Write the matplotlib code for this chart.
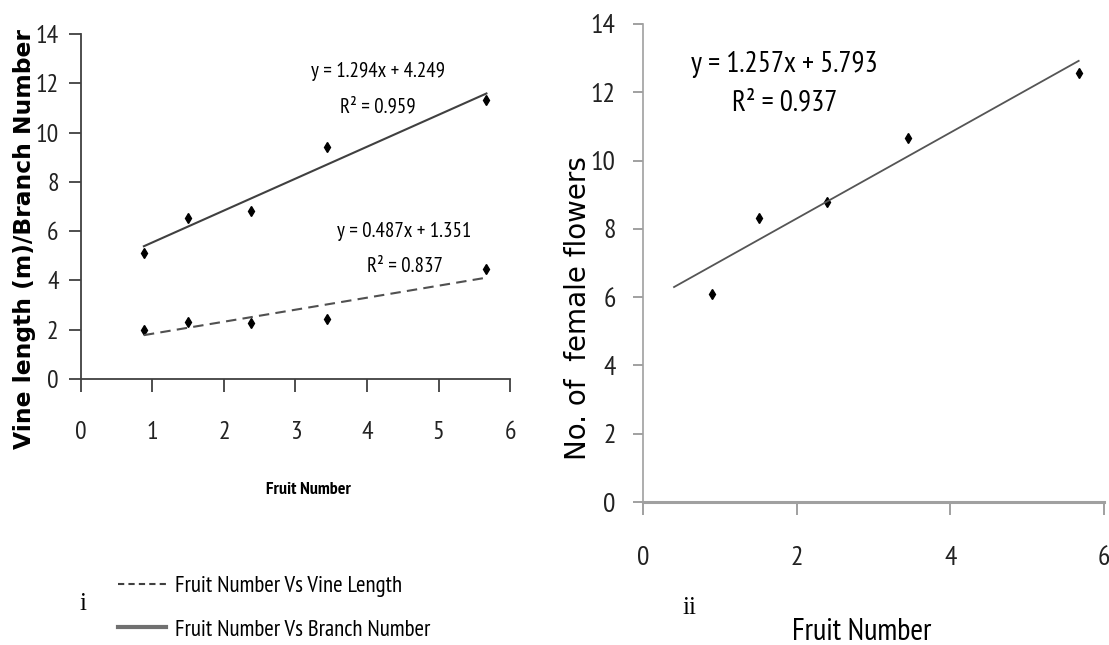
import matplotlib
matplotlib.use('Agg')
import matplotlib.pyplot as plt
from matplotlib import font_manager
from matplotlib.lines import Line2D
import numpy as np

# Data
fruit_left = [0.88, 1.49, 2.38, 3.44, 5.67]
branch_number = [5.12, 6.53, 6.83, 9.40, 11.34]
vine_length = [2.00, 2.32, 2.26, 2.42, 4.48]

fruit_right = [0.90, 1.51, 2.39, 3.45, 5.67]
female_flowers = [6.09, 8.32, 8.78, 10.67, 12.56]

# Trendline coefficients printed on the chart (slope, intercept)
branch_fit = [1.294, 4.249]
vine_fit = [0.487, 1.351]
female_fit = [1.257, 5.793]

names = {f.name for f in font_manager.fontManager.ttflist}


def pick(cands):
    for c in cands:
        if c in names:
            return c
    return 'DejaVu Sans'


narrow = pick(['Liberation Sans Narrow', 'Arial Narrow', 'PT Sans Narrow', 'Archivo Narrow',
               'Roboto Condensed', 'Open Sans Condensed', 'Fira Sans Condensed',
               'Encode Sans Condensed', 'Pragati Narrow', 'Carlito', 'Lato'])

fig = plt.figure(figsize=(11.09, 6.45), dpi=100)

# ---- panel i ----
ax1 = fig.add_axes([0.0730, 0.4124, 0.3869, 0.5349])
ax1.plot(fruit_left, branch_number, linestyle='none', marker='d', markersize=5.5, color='black')
ax1.plot(fruit_left, vine_length, linestyle='none', marker='d', markersize=5.5, color='black')
xl = np.array([fruit_left[0], fruit_left[-1]])
ax1.plot(xl, branch_fit[0] * xl + branch_fit[1], color='#404040', lw=1.5)
ax1.plot(xl, vine_fit[0] * xl + vine_fit[1], color='#505050', lw=1.5, linestyle=(0, (5, 3)))
ax1.set_xlim(0, 6)
ax1.set_ylim(0, 14)
ax1.set_xticks(range(0, 7))
ax1.set_yticks(range(0, 15, 2))
for s in ['top', 'right']:
    ax1.spines[s].set_visible(False)
for s in ['left', 'bottom']:
    ax1.spines[s].set_color('#404040')
    ax1.spines[s].set_linewidth(1.3)
ax1.tick_params(axis='x', length=9, width=1.3, color='#404040', pad=21, labelsize=18.5)
ax1.tick_params(axis='y', length=9, width=1.3, color='#404040', pad=7, labelsize=18.5)
for lab in ax1.get_xticklabels() + ax1.get_yticklabels():
    lab.set_fontfamily(narrow)
    lab.set_color('#222222')
ax1.text(4.15, 12.48, 'y = 1.294x + 4.249', family=narrow, fontsize=15, ha='center', va='center')
ax1.text(4.15, 11.06, 'R² = 0.959', family=narrow, fontsize=15, ha='center', va='center')
ax1.text(4.52, 5.98, 'y = 0.487x + 1.351', family=narrow, fontsize=15, ha='center', va='center')
ax1.text(4.53, 4.55, 'R² = 0.837', family=narrow, fontsize=15, ha='center', va='center')

fig.text(0.022, 0.629, 'Vine length (m)/Branch Number', rotation=90, fontsize=16.8,
         fontweight='bold', ha='center', va='center', family='DejaVu Sans')
fig.text(308 / 1109, 1 - 490 / 645, 'Fruit Number', family=narrow, fontsize=13,
         fontweight='bold', ha='center', va='center')

handles = [Line2D([], [], color='#404040', lw=1.5, linestyle=(0, (3, 2))),
           Line2D([], [], color='#707070', lw=3)]
fig.legend(handles, ['Fruit Number Vs Vine Length', 'Fruit Number Vs Branch Number'],
           loc='center left', bbox_to_anchor=(118 / 1109, 1 - 608 / 645), frameon=False,
           prop={'family': narrow, 'size': 16.5}, labelspacing=1.0, handlelength=2.1,
           handletextpad=0.4, borderpad=0, borderaxespad=0)
fig.text(83 / 1109, 1 - 604 / 645, 'i', family='Liberation Serif', fontsize=18,
         ha='center', va='center')

# ---- panel ii ----
ax2 = fig.add_axes([0.5801, 0.2217, 0.4154, 0.7411])
ax2.plot(fruit_right, female_flowers, linestyle='none', marker='d', markersize=5.5, color='black')
xr = np.array([fruit_right[0] - 0.5, fruit_right[-1]])
ax2.plot(xr, female_fit[0] * xr + female_fit[1], color='#555555', lw=1.3)
ax2.set_xlim(0, 6)
ax2.set_ylim(0, 14)
ax2.set_xticks(range(0, 7, 2))
ax2.set_yticks(range(0, 15, 2))
for s in ['top', 'right']:
    ax2.spines[s].set_visible(False)
ax2.spines['left'].set_color('#a0a0a0')
ax2.spines['left'].set_linewidth(1.2)
ax2.spines['bottom'].set_color('#a0a0a0')
ax2.spines['bottom'].set_linewidth(2.2)
ax2.tick_params(axis='x', length=9, width=1.2, color='#909090', pad=23, labelsize=20)
ax2.tick_params(axis='y', length=7, width=1.2, color='#909090', pad=13, labelsize=20)
for lab in ax2.get_xticklabels() + ax2.get_yticklabels():
    lab.set_fontfamily(narrow)
    lab.set_color('#222222')
ax2.text(1.84, 12.8, 'y = 1.257x + 5.793', family=narrow, fontsize=21, ha='center', va='center')
ax2.text(1.84, 11.69, 'R² = 0.937', family=narrow, fontsize=21, ha='center', va='center')

fig.text(578 / 1109, 1 - 308 / 645, 'No. of  female flowers', rotation=90, fontsize=20,
         family='DejaVu Sans', ha='center', va='center')
fig.text(689 / 1109, 1 - 608 / 645, 'ii', family='Liberation Serif', fontsize=18,
         ha='center', va='center')
fig.text(862 / 1109, 1 - 632 / 645, 'Fruit Number', family=narrow, fontsize=22,
         ha='center', va='center')

fig.savefig('out.png', dpi=100)
